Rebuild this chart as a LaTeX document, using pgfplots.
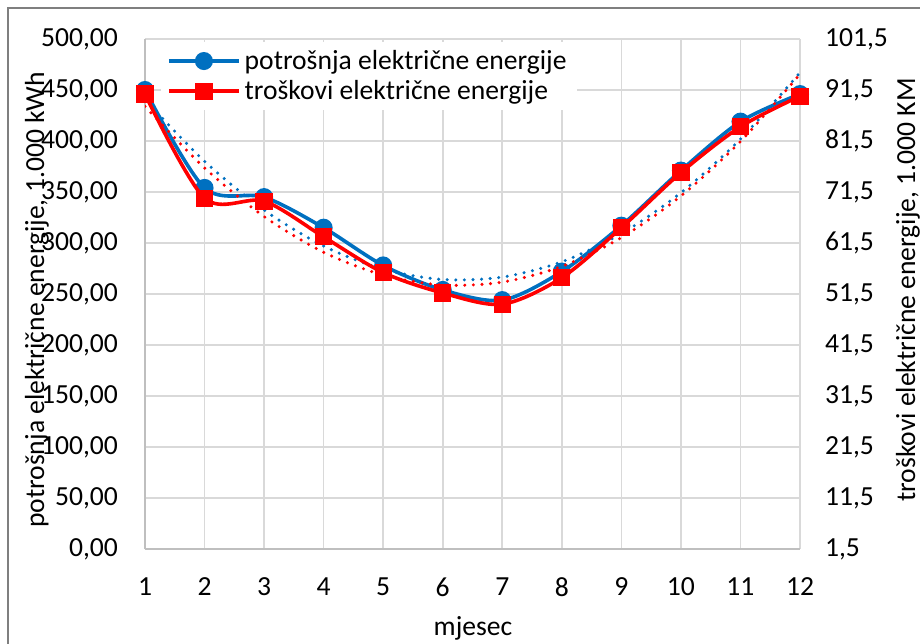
\documentclass[border=0pt]{standalone}
\usepackage{fontspec}
\setmainfont{Carlito}
\usepackage{pgfplots}
\pgfplotsset{compat=1.18}
\definecolor{cblue}{HTML}{0070C0}
\definecolor{cred}{HTML}{FF0000}
\definecolor{cgrid}{HTML}{D9D9D9}
\definecolor{caxis}{HTML}{BFBFBF}
\definecolor{cframe}{HTML}{7F7F7F}
\newcommand\lbl{\fontsize{13.8}{16}\selectfont}

\pgfplotsset{base/.style={
  scale only axis, width=327.5pt, height=255pt,
  at={(0pt,0pt)}, anchor=south west,
  xmin=1, xmax=12,
  tick style={draw=none},
  tick label style={font=\lbl},
  /pgf/number format/assume math mode=true,
  /pgf/number format/use comma,
  /pgf/number format/1000 sep={},
  /pgf/number format/fixed,
}}

% blue: consumption (left axis, 1.000 kWh); red: costs (right axis, 1.000 KM)
\pgfplotstableread{
m   potr
1   450
2   354
3   345
4   315
5   278
6   254
7   244
8   272
9   317
10  371
11  419
12  446
}\potrosnja
\pgfplotstableread{
m   tros
1   90.7
2   70.3
3   69.7
4   62.7
5   55.7
6   51.7
7   49.5
8   54.7
9   64.5
10  75.3
11  84.3
12  90.3
}\troskovi

\begin{document}
\begin{tikzpicture}
\path[use as bounding box, clip] (-72.5pt,-47pt) rectangle (387.5pt,274.5pt);
\fill[white] (-72.5pt,-47pt) rectangle (387.5pt,274.5pt);
\draw[cframe, line width=1.2pt] (-68.5pt,270.5pt) rectangle (430pt,-90pt);

\begin{axis}[base,
  ymin=0, ymax=500, ytick={0,50,...,500},
  xtick={1,...,12},
  grid=major, grid style={cgrid, line width=0.8pt},
  axis x line*=bottom, axis y line*=left,
  axis line style={caxis, line width=0.9pt, -},
  yticklabel style={/pgf/number format/precision=2, /pgf/number format/fixed zerofill, xshift=-10pt},
  xticklabel style={/pgf/number format/precision=0, yshift=-11pt},
]
\addplot[cblue, line width=1.7pt, dash pattern=on 0pt off 4.3pt, line cap=round, smooth] coordinates {
  (1,440.4) (2,380.1) (3,332.3) (4,297.0) (5,274.3) (6,264.2)
  (7,266.6) (8,281.6) (9,309.2) (10,349.3) (11,401.9) (12,467.1)
};
\addplot[cblue, line width=1.8pt, smooth, mark=*, mark size=3.6pt] table[x=m, y=potr] {\potrosnja};
\end{axis}

\begin{axis}[base,
  ymin=1.5, ymax=101.5,
  ytick={1.5,11.5,21.5,31.5,41.5,51.5,61.5,71.5,81.5,91.5,101.5},
  axis x line=none, axis y line*=right,
  axis line style={draw=none},
  yticklabel style={/pgf/number format/precision=1, /pgf/number format/fixed zerofill, xshift=9pt},
  legend style={at={(0.024,0.995)}, anchor=north west, draw=none, fill=white,
    font=\lbl, row sep=0pt},
  legend cell align=left,
  legend image code/.code={\draw[#1, mark repeat=2, mark phase=2] plot coordinates {(0pt,0pt) (17.5pt,0pt) (35pt,0pt)};},
]
\addlegendimage{cblue, line width=1.8pt, mark=*, mark size=3.6pt}
\addlegendentry{potrošnja električne energije}
\addplot[cred, line width=1.7pt, dash pattern=on 0pt off 4.3pt, line cap=round, smooth, forget plot] coordinates {
  (1,88.28) (2,76.22) (3,66.69) (4,59.68) (5,55.20) (6,53.25)
  (7,53.83) (8,56.93) (9,62.56) (10,70.72) (11,81.40) (12,94.61)
};
\addplot[cred, line width=1.8pt, smooth, mark=square*, mark size=3.4pt] table[x=m, y=tros] {\troskovi};
\addlegendentry{troškovi električne energije}
\end{axis}

\node[font=\lbl] at (164pt,-39.5pt) {mjesec};
\node[font=\lbl, rotate=90] at (-54pt,124.5pt) {potrošnja električne energije, 1.000 kWh};
\node[font=\lbl, rotate=90] at (381.5pt,129.5pt) {troškovi električne energije, 1.000 KM};
\end{tikzpicture}
\end{document}
